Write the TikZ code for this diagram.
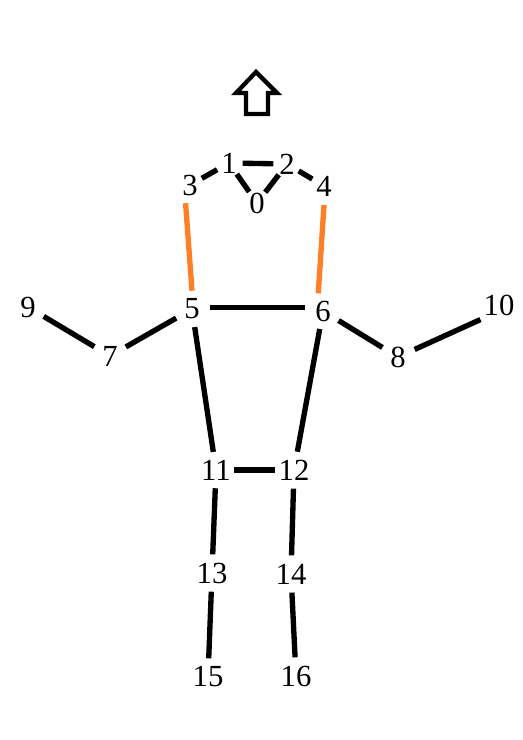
\documentclass[tikz,border=0pt]{standalone}
\usepackage{fontspec}
\setmainfont{Liberation Serif}
\usepackage{xcolor}
\definecolor{limborange}{RGB}{255,127,39}

\begin{document}
\begin{tikzpicture}[x=0.75pt,y=-0.75pt,
    joint/.style={circle,inner sep=0pt,minimum size=27pt,font=\fontsize{23}{27}\selectfont},
    headjoint/.style={joint,minimum size=20pt},
    bone/.style={line width=4pt,black},
    face/.style={line width=4pt,limborange}]
            \useasboundingbox (0,0) rectangle (522,740);
            % heading arrow
            \draw[line width=3.2pt,miter limit=4] (256,72) -- (277,93) -- (268,93) -- (268,114)
                -- (246,114) -- (246,93) -- (236,93) -- cycle;
            % keypoints
            \node[headjoint] (k0) at (257,203) {0};
            \node[headjoint] (k1) at (229,163) {1};
            \node[headjoint] (k2) at (287,164) {2};
            \node[headjoint] (k3) at (190,185) {3};
            \node[headjoint] (k4) at (324,186) {4};
            \node[joint] (k5) at (192,309) {5};
            \node[joint] (k6) at (323,311) {6};
            \node[joint] (k7) at (110,356) {7};
            \node[joint] (k8) at (398,357) {8};
            \node[joint] (k9) at (28,307) {9};
            \node[joint] (k10) at (499,305) {10};
            \node[joint] (k11) at (216,470) {11};
            \node[joint] (k12) at (294,470) {12};
            \node[joint] (k13) at (212,573) {13};
            \node[joint] (k14) at (291,574) {14};
            \node[joint] (k15) at (208,677) {15};
            \node[joint] (k16) at (296,676) {16};
            % head
            \draw[bone] (k1) -- (k2);
            \draw[bone] (k1) -- (k0);
            \draw[bone] (k2) -- (k0);
            \draw[bone] (k3) -- (k1);
            \draw[bone] (k2) -- (k4);
            \draw[face] ([yshift=-4pt]k3.251) -- (k5.north);
            \draw[face] ([yshift=-4pt]k4.south) -- (k6.105);
            % arms
            \draw[bone] ([yshift=1pt]k5.east) -- ([yshift=1pt]k5.east -| k6.west);
            \draw[bone] (k9) -- (k7);
            \draw[bone] (k7) -- (k5);
            \draw[bone] (k6) -- (k8);
            \draw[bone] (k8) -- ([shift={(-4pt,-1pt)}]k10.south west);
            % body and legs
            \draw[bone] (k5) -- (k11);
            \draw[bone] (k6) -- (k12);
            \draw[bone] (k11) -- (k12);
            \draw[bone] (k11) -- (k13);
            \draw[bone] (k13) -- (k15);
            \draw[bone] (k12) -- (k14);
            \draw[bone] (k14) -- (k16);
        \end{tikzpicture}
\end{document}
